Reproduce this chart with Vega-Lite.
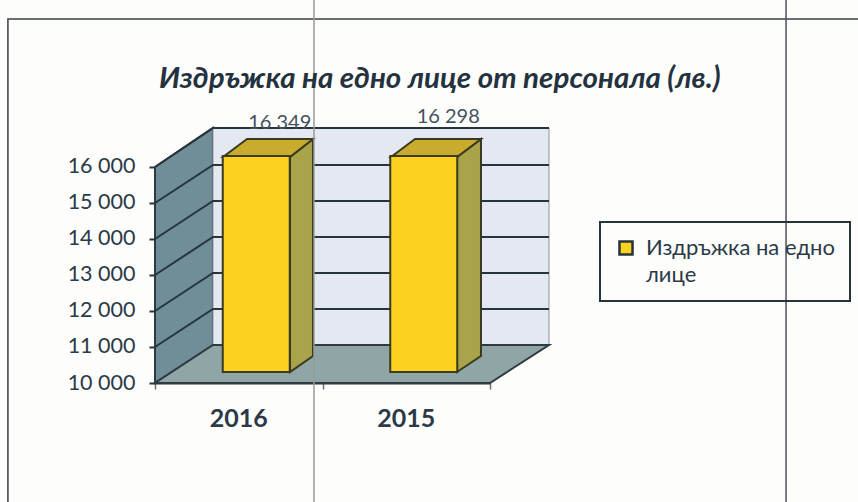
{
"$schema":"https://vega.github.io/schema/vega-lite/v6.json",
"width":394,"height":255,
"autosize":{"type":"none"},
"padding":{"left":155,"top":128,"right":309,"bottom":119},
"background":"#fdfdfb",
"config":{"view":{"stroke":null},"font":"Lato","locale":{"number":{"decimal":".","thousands":" ","grouping":[3],"currency":["",""]}}},
"title":{"text":"Издръжка на едно лице от персонала (лв.)","anchor":"start","frame":"group","dx":4,"offset":-98,"font":"Lato","fontSize":29.5,"fontWeight":"bold","fontStyle":"italic","color":"#243240"},
"datasets":{
"bars":[{"year":"2016","value":16349,"series":"Издръжка на едно лице"},{"year":"2015","value":16298,"series":"Издръжка на едно лице"}],
"leftWall":[{"u":0,"low":10000,"high":16000},{"u":0.346,"low":11056,"high":17083}],
"backWall":[{"u":0.346,"low":11056,"high":17083},{"u":2.352,"low":11056,"high":17083}],
"floor":[{"v":10000,"u1":0,"u2":2},{"v":11056,"u1":0.346,"u2":2.352}],
"grid":[
{"t":"11000","u":0,"v":11000},{"t":"11000","u":0.346,"v":12056},{"t":"11000","u":2.352,"v":12056},
{"t":"12000","u":0,"v":12000},{"t":"12000","u":0.346,"v":13056},{"t":"12000","u":2.352,"v":13056},
{"t":"13000","u":0,"v":13000},{"t":"13000","u":0.346,"v":14056},{"t":"13000","u":2.352,"v":14056},
{"t":"14000","u":0,"v":14000},{"t":"14000","u":0.346,"v":15056},{"t":"14000","u":2.352,"v":15056},
{"t":"15000","u":0,"v":15000},{"t":"15000","u":0.346,"v":16056},{"t":"15000","u":2.352,"v":16056},
{"t":"16000","u":0,"v":16000},{"t":"16000","u":0.346,"v":17083},{"t":"16000","u":2.352,"v":17083}
],
"sides":[
{"year":"2016","u":0.806,"low":10306,"high":16278},{"year":"2016","u":0.943,"low":10750,"high":16778},
{"year":"2015","u":1.803,"low":10306,"high":16278},{"year":"2015","u":1.946,"low":10750,"high":16778}
],
"tops":[
{"year":"2016","v":16278,"u1":0.406,"u2":0.806},{"year":"2016","v":16778,"u1":0.549,"u2":0.943},
{"year":"2015","v":16278,"u1":1.409,"u2":1.803},{"year":"2015","v":16778,"u1":1.552,"u2":1.946}
],
"scan":[
{"k":"a","u":-0.878,"v":6694},{"k":"a","u":-0.878,"v":20111},{"k":"a","u":4.197,"v":20111},
{"k":"b","u":0.949,"v":6694},{"k":"b","u":0.949,"v":20639},
{"k":"c","u":3.767,"v":6694},{"k":"c","u":3.767,"v":20639}
]
},
"layer":[
{"data":{"name":"leftWall"},"mark":{"type":"area","fill":"#6f8e98","stroke":"#2c3a42","strokeWidth":2},
"encoding":{"x":{"field":"u","type":"quantitative","axis":null,"scale":{"domain":[0,2.352],"nice":false,"zero":false}},
"y":{"field":"high","type":"quantitative","axis":null,"scale":{"domain":[10000,17083],"nice":false,"zero":false}},"y2":{"field":"low"}}},
{"data":{"name":"backWall"},"mark":{"type":"area","fill":"#e4e8f1","stroke":"#8c969c","strokeWidth":1},
"encoding":{"x":{"field":"u","type":"quantitative","axis":null,"scale":{"domain":[0,2.352],"nice":false,"zero":false}},
"y":{"field":"high","type":"quantitative","axis":null,"scale":{"domain":[10000,17083],"nice":false,"zero":false}},"y2":{"field":"low"}}},
{"data":{"name":"floor"},"mark":{"type":"area","orient":"horizontal","fill":"#8fa5a6","stroke":"#2c3a42","strokeWidth":2},
"encoding":{"x":{"field":"u1","type":"quantitative","title":null,"axis":{"orient":"bottom","values":[0,1,2],"labels":false,"domain":false,"grid":false,"tickColor":"#6a7278","tickSize":6,"tickWidth":1.5},"scale":{"domain":[0,2.352],"nice":false,"zero":false}},"x2":{"field":"u2"},
"y":{"field":"v","type":"quantitative","axis":null,"scale":{"domain":[10000,17083],"nice":false,"zero":false}}}},
{"data":{"name":"grid"},"mark":{"type":"line","stroke":"#26343c","strokeWidth":2},
"encoding":{"x":{"field":"u","type":"quantitative","axis":null,"scale":{"domain":[0,2.352],"nice":false,"zero":false}},
"y":{"field":"v","type":"quantitative","axis":null,"scale":{"domain":[10000,17083],"nice":false,"zero":false}},"detail":{"field":"t"}}},
{"data":{"name":"sides"},"mark":{"type":"area","fill":"#a9a34a","stroke":"#3a3a22","strokeWidth":2},
"encoding":{"x":{"field":"u","type":"quantitative","axis":null,"scale":{"domain":[0,2.352],"nice":false,"zero":false}},
"y":{"field":"high","type":"quantitative","axis":null,"scale":{"domain":[10000,17083],"nice":false,"zero":false}},"y2":{"field":"low"},"detail":{"field":"year"}}},
{"data":{"name":"tops"},"mark":{"type":"area","orient":"horizontal","fill":"#c9ac2e","stroke":"#3a3a22","strokeWidth":2},
"encoding":{"x":{"field":"u1","type":"quantitative","axis":null,"scale":{"domain":[0,2.352],"nice":false,"zero":false}},"x2":{"field":"u2"},
"y":{"field":"v","type":"quantitative","axis":null,"scale":{"domain":[10000,17083],"nice":false,"zero":false}},"detail":{"field":"year"}}},
{"data":{"name":"bars"},"transform":[{"calculate":"min(datum.value,16000)","as":"shown"}],
"mark":{"type":"bar","xOffset":17.5,"yOffset":-11,"y2Offset":-11,"stroke":"#3a3a22","strokeWidth":2},
"encoding":{
"x":{"field":"year","type":"nominal","sort":null,"title":null,"scale":{"range":[0,335],"paddingInner":0.6,"paddingOuter":0.3},
"axis":{"orient":"bottom","labelAngle":0,"labelFontSize":25,"labelFontWeight":"bold","labelColor":"#2b3a48","labelPadding":23,"labelFont":"Lato","domainColor":"#26343c","domainWidth":2,"ticks":false}},
"y":{"field":"shown","type":"quantitative","title":null,"scale":{"domain":[10000,17083],"nice":false,"zero":false},
"axis":{"values":[10000,11000,12000,13000,14000,15000,16000],"format":",d","grid":false,"domain":false,"labelFontSize":21.5,"labelColor":"#2b3a48","labelFont":"Lato","labelPadding":14,"tickColor":"#26343c","tickSize":6,"tickWidth":2}},
"y2":{"datum":10000},
"color":{"field":"series","type":"nominal","scale":{"range":["#fdd21f"]},
"legend":{"title":null,"orient":"none","legendX":445,"legendY":94,"strokeColor":"#26343c","padding":15,"symbolType":"square","symbolSize":170,"symbolStrokeColor":"#26343c","symbolStrokeWidth":2.5,"labelFontSize":22,"labelFont":"Lato","labelColor":"#2b3a48","labelLimit":300,"labelExpr":"['Издръжка на едно','лице']","labelOffset":9,"encode":{"legend":{"update":{"strokeWidth":{"value":2}}},"labels":{"update":{"lineHeight":{"value":27}}}}}}
}},
{"data":{"name":"bars"},"transform":[{"filter":"datum.year=='2016'"}],"mark":{"type":"text","fontSize":20,"font":"Lato","color":"#44525e","xOffset":41,"yOffset":-31},
"encoding":{"x":{"field":"year","type":"nominal","sort":["2016","2015"],"axis":null,"scale":{"domain":["2016","2015"],"range":[0,335],"paddingInner":0.6,"paddingOuter":0.3}},
"y":{"field":"value","type":"quantitative","axis":null,"scale":{"domain":[10000,17083],"nice":false,"zero":false}},
"text":{"field":"value","type":"quantitative","format":",d"}}},
{"data":{"name":"bars"},"transform":[{"filter":"datum.year=='2015'"}],"mark":{"type":"text","fontSize":20,"font":"Lato","color":"#44525e","xOffset":42,"yOffset":-39},
"encoding":{"x":{"field":"year","type":"nominal","sort":["2016","2015"],"axis":null,"scale":{"domain":["2016","2015"],"range":[0,335],"paddingInner":0.6,"paddingOuter":0.3}},
"y":{"field":"value","type":"quantitative","axis":null,"scale":{"domain":[10000,17083],"nice":false,"zero":false}},
"text":{"field":"value","type":"quantitative","format":",d"}}},
{"data":{"name":"scan"},"mark":{"type":"line","strokeWidth":1.5},
"encoding":{"x":{"field":"u","type":"quantitative","axis":null,"scale":{"domain":[0,2.352],"nice":false,"zero":false}},
"y":{"field":"v","type":"quantitative","axis":null,"scale":{"domain":[10000,17083],"nice":false,"zero":false}},"detail":{"field":"k"},
"stroke":{"field":"k","type":"nominal","legend":null,"scale":{"domain":["a","b","c"],"range":["#3a4048","#9a9a9a","#4a5058"]}}}}
],
"resolve":{"scale":{"x":"independent"},"axis":{"y":"independent"}}
}
